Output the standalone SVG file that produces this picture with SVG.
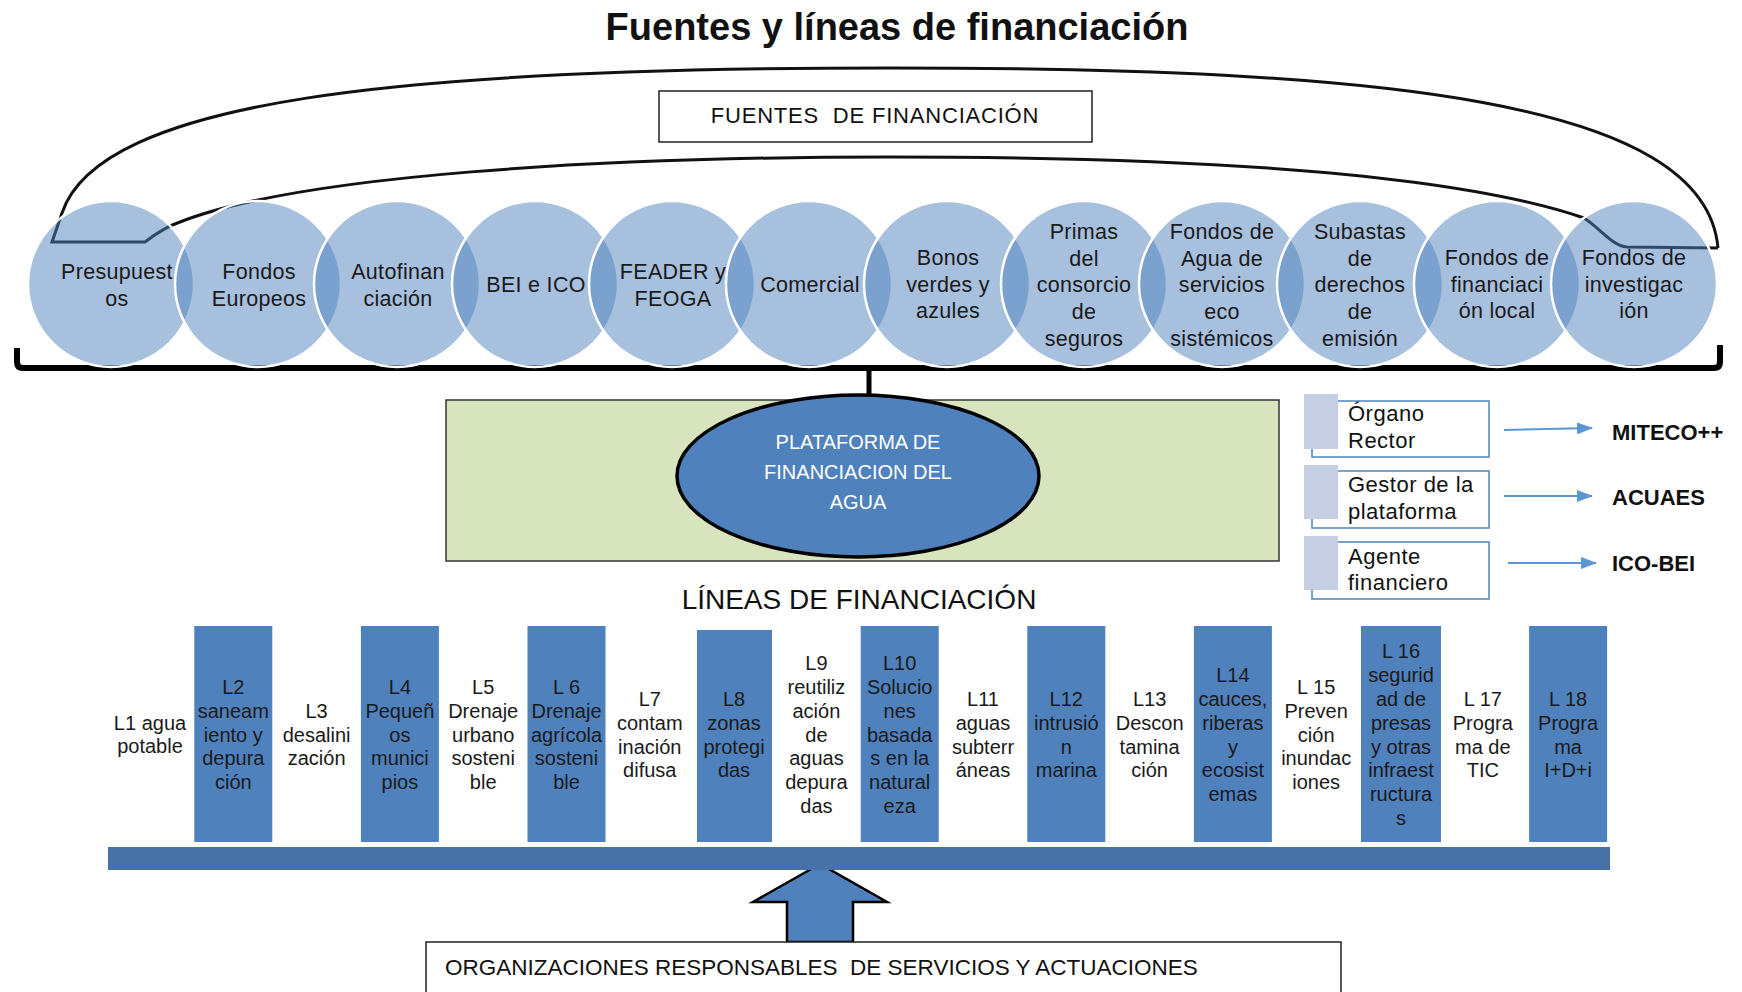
<svg xmlns="http://www.w3.org/2000/svg" width="1742" height="992" viewBox="0 0 1742 992">
<style>
text{font-family:"Liberation Sans",Arial,sans-serif;fill:#1a1a1a}
.title{font-size:38px;font-weight:bold;fill:#111}
.hdr{font-size:22px;fill:#111;white-space:pre;letter-spacing:0.8px}
.c{font-size:21.5px;text-anchor:middle;letter-spacing:0.3px}
.col{font-size:20px;text-anchor:middle}
.circ{fill:#4f81bd;fill-opacity:0.5;stroke:#fff;stroke-width:2.5}
.bar{fill:#4f81bd}
.sq{fill:#c5cee2}
.ob{fill:none;stroke:#5b8ac4;stroke-width:1.6}
.bt{font-size:22px;fill:#111;letter-spacing:0.5px}
.lab{font-size:22px;font-weight:bold;fill:#111}
.arr{stroke:#5b96d0;stroke-width:2;fill:none;marker-end:url(#ah)}
.wt{font-size:20px;fill:#fff;text-anchor:middle}
</style>
<defs>
<marker id="ah" markerWidth="16" markerHeight="12" refX="15" refY="6" orient="auto" markerUnits="userSpaceOnUse">
<path d="M0,0 L16,6 L0,12 Z" fill="#5b96d0"/>
</marker>
</defs>
<rect width="1742" height="992" fill="#fff"/>
<text class="title" x="897" y="40" text-anchor="middle">Fuentes y líneas de financiación</text>
<g id="fuentes-box">
<rect x="659" y="91" width="433" height="51" fill="#fff" stroke="#222" stroke-width="1.5"/>
<text class="hdr" x="875" y="123" text-anchor="middle">FUENTES  DE FINANCIACIÓN</text>
</g>
<g id="connectors">
<path d="M1718,248 C1705,100 1380,68 889,68 C400,68 100,100 62,213 L52,242 L145,242 C158,232 168,226 180,222 C300,175 600,157 889,157 C1180,157 1450,172 1584,218 C1600,228 1612,246 1627,247 L1718,248" fill="none" stroke="#111" stroke-width="3"/>
<path d="M17,348 L17,362 Q17,368 23,368 L1714,368 Q1720,368 1720,362 L1720,345" fill="none" stroke="#000" stroke-width="6"/>
<path d="M869,368 L869,397" stroke="#000" stroke-width="5"/>
<path class="arr" d="M1504,430 L1592,428"/>
<path class="arr" d="M1504,496 L1592,496"/>
<path class="arr" d="M1508,563 L1596,563"/>
<polygon points="820,864 753,902 787,902 787,942 853,942 853,902 887,902" fill="#4f81bd" stroke="#000" stroke-width="2.5" stroke-linejoin="miter"/>
</g>
<g id="c1"><circle class="circ" cx="111" cy="284" r="83"/><text class="c" x="117" y="279">Presupuest<tspan x="117" dy="26.7">os</tspan></text></g>
<g id="c2"><circle class="circ" cx="258" cy="284" r="83"/><text class="c" x="259" y="279">Fondos<tspan x="259" dy="26.7">Europeos</tspan></text></g>
<g id="c3"><circle class="circ" cx="397" cy="284" r="83"/><text class="c" x="398" y="279">Autofinan<tspan x="398" dy="26.7">ciación</tspan></text></g>
<g id="c4"><circle class="circ" cx="535" cy="284" r="83"/><text class="c" x="536" y="292">BEI e ICO</text></g>
<g id="c5"><circle class="circ" cx="672" cy="284" r="83"/><text class="c" x="673" y="279">FEADER y<tspan x="673" dy="26.7">FEOGA</tspan></text></g>
<g id="c6"><circle class="circ" cx="809" cy="284" r="83"/><text class="c" x="810" y="292">Comercial</text></g>
<g id="c7"><circle class="circ" cx="947" cy="284" r="83"/><text class="c" x="948" y="265">Bonos<tspan x="948" dy="26.7">verdes y</tspan><tspan x="948" dy="26.7">azules</tspan></text></g>
<g id="c8"><circle class="circ" cx="1084" cy="284" r="83"/><text class="c" x="1084" y="239">Primas<tspan x="1084" dy="26.7">del</tspan><tspan x="1084" dy="26.7">consorcio</tspan><tspan x="1084" dy="26.7">de</tspan><tspan x="1084" dy="26.7">seguros</tspan></text></g>
<g id="c9"><circle class="circ" cx="1222" cy="284" r="83"/><text class="c" x="1222" y="239">Fondos de<tspan x="1222" dy="26.7">Agua de</tspan><tspan x="1222" dy="26.7">servicios</tspan><tspan x="1222" dy="26.7">eco</tspan><tspan x="1222" dy="26.7">sistémicos</tspan></text></g>
<g id="c10"><circle class="circ" cx="1360" cy="284" r="83"/><text class="c" x="1360" y="239">Subastas<tspan x="1360" dy="26.7">de</tspan><tspan x="1360" dy="26.7">derechos</tspan><tspan x="1360" dy="26.7">de</tspan><tspan x="1360" dy="26.7">emisión</tspan></text></g>
<g id="c11"><circle class="circ" cx="1497" cy="284" r="83"/><text class="c" x="1497" y="265">Fondos de<tspan x="1497" dy="26.7">financiaci</tspan><tspan x="1497" dy="26.7">ón local</tspan></text></g>
<g id="c12"><circle class="circ" cx="1634" cy="284" r="83"/><text class="c" x="1634" y="265">Fondos de<tspan x="1634" dy="26.7">investigac</tspan><tspan x="1634" dy="26.7">ión</tspan></text></g>
<g id="plataforma">
<rect x="446" y="400" width="833" height="161" fill="#d7e4bd" stroke="#333" stroke-width="1.5"/>
<ellipse cx="858" cy="476" rx="181" ry="81" fill="#4f81bd" stroke="#000" stroke-width="3.5"/>
<text class="wt" x="858" y="449">PLATAFORMA DE<tspan x="858" dy="30">FINANCIACION DEL</tspan><tspan x="858" dy="30">AGUA</tspan></text>
</g>
<g id="organo">
<rect class="ob" x="1312" y="401" width="177" height="56"/>
<rect class="sq" x="1304" y="394" width="34" height="55"/>
<text class="bt" x="1348" y="421">Órgano<tspan x="1348" dy="27">Rector</tspan></text>
</g>
<g id="gestor">
<rect class="ob" x="1312" y="471" width="177" height="57"/>
<rect class="sq" x="1304" y="465" width="34" height="54"/>
<text class="bt" x="1348" y="492">Gestor de la<tspan x="1348" dy="27">plataforma</tspan></text>
</g>
<g id="agente">
<rect class="ob" x="1312" y="542" width="177" height="57"/>
<rect class="sq" x="1304" y="536" width="34" height="54"/>
<text class="bt" x="1348" y="564">Agente<tspan x="1348" dy="26">financiero</tspan></text>
</g>
<g id="miteco"><text class="lab" x="1612" y="440">MITECO++</text></g>
<g id="acuaes"><text class="lab" x="1612" y="505">ACUAES</text></g>
<g id="icobei"><text class="lab" x="1612" y="571">ICO-BEI</text></g>
<text x="859" y="609" text-anchor="middle" style="font-size:28px;fill:#111">LÍNEAS DE FINANCIACIÓN</text>
<g id="L1"><text class="col" x="150" y="729.5">L1 agua<tspan x="150" dy="23.9">potable</tspan></text></g>
<g id="L2"><rect class="bar" x="194.3" y="626" width="78" height="216"/><text class="col" x="233.3" y="693.7">L2<tspan x="233.3" dy="23.9">saneam</tspan><tspan x="233.3" dy="23.9">iento y</tspan><tspan x="233.3" dy="23.9">depura</tspan><tspan x="233.3" dy="23.9">ción</tspan></text></g>
<g id="L3"><text class="col" x="316.6" y="717.6">L3<tspan x="316.6" dy="23.9">desalini</tspan><tspan x="316.6" dy="23.9">zación</tspan></text></g>
<g id="L4"><rect class="bar" x="360.9" y="626" width="78" height="216"/><text class="col" x="399.9" y="693.7">L4<tspan x="399.9" dy="23.9">Pequeñ</tspan><tspan x="399.9" dy="23.9">os</tspan><tspan x="399.9" dy="23.9">munici</tspan><tspan x="399.9" dy="23.9">pios</tspan></text></g>
<g id="L5"><text class="col" x="483.2" y="693.7">L5<tspan x="483.2" dy="23.9">Drenaje</tspan><tspan x="483.2" dy="23.9">urbano</tspan><tspan x="483.2" dy="23.9">sosteni</tspan><tspan x="483.2" dy="23.9">ble</tspan></text></g>
<g id="L6"><rect class="bar" x="527.5" y="626" width="78" height="216"/><text class="col" x="566.5" y="693.7">L 6<tspan x="566.5" dy="23.9">Drenaje</tspan><tspan x="566.5" dy="23.9">agrícola</tspan><tspan x="566.5" dy="23.9">sosteni</tspan><tspan x="566.5" dy="23.9">ble</tspan></text></g>
<g id="L7"><text class="col" x="649.8" y="705.7">L7<tspan x="649.8" dy="23.9">contam</tspan><tspan x="649.8" dy="23.9">inación</tspan><tspan x="649.8" dy="23.9">difusa</tspan></text></g>
<g id="L8"><rect class="bar" x="697" y="630" width="75" height="212"/><text class="col" x="734" y="705.7">L8<tspan x="734" dy="23.9">zonas</tspan><tspan x="734" dy="23.9">protegi</tspan><tspan x="734" dy="23.9">das</tspan></text></g>
<g id="L9"><text class="col" x="816.4" y="669.8">L9<tspan x="816.4" dy="23.9">reutiliz</tspan><tspan x="816.4" dy="23.9">ación</tspan><tspan x="816.4" dy="23.9">de</tspan><tspan x="816.4" dy="23.9">aguas</tspan><tspan x="816.4" dy="23.9">depura</tspan><tspan x="816.4" dy="23.9">das</tspan></text></g>
<g id="L10"><rect class="bar" x="860.7" y="626" width="78" height="216"/><text class="col" x="899.7" y="669.8">L10<tspan x="899.7" dy="23.9">Solucio</tspan><tspan x="899.7" dy="23.9">nes</tspan><tspan x="899.7" dy="23.9">basada</tspan><tspan x="899.7" dy="23.9">s en la</tspan><tspan x="899.7" dy="23.9">natural</tspan><tspan x="899.7" dy="23.9">eza</tspan></text></g>
<g id="L11"><text class="col" x="983" y="705.7">L11<tspan x="983" dy="23.9">aguas</tspan><tspan x="983" dy="23.9">subterr</tspan><tspan x="983" dy="23.9">áneas</tspan></text></g>
<g id="L12"><rect class="bar" x="1027.3" y="626" width="78" height="216"/><text class="col" x="1066.3" y="705.7">L12<tspan x="1066.3" dy="23.9">intrusió</tspan><tspan x="1066.3" dy="23.9">n</tspan><tspan x="1066.3" dy="23.9">marina</tspan></text></g>
<g id="L13"><text class="col" x="1149.6" y="705.7">L13<tspan x="1149.6" dy="23.9">Descon</tspan><tspan x="1149.6" dy="23.9">tamina</tspan><tspan x="1149.6" dy="23.9">ción</tspan></text></g>
<g id="L14"><rect class="bar" x="1193.9" y="626" width="78" height="216"/><text class="col" x="1232.9" y="681.8">L14<tspan x="1232.9" dy="23.9">cauces,</tspan><tspan x="1232.9" dy="23.9">riberas</tspan><tspan x="1232.9" dy="23.9">y</tspan><tspan x="1232.9" dy="23.9">ecosist</tspan><tspan x="1232.9" dy="23.9">emas</tspan></text></g>
<g id="L15"><text class="col" x="1316.2" y="693.7">L 15<tspan x="1316.2" dy="23.9">Preven</tspan><tspan x="1316.2" dy="23.9">ción</tspan><tspan x="1316.2" dy="23.9">inundac</tspan><tspan x="1316.2" dy="23.9">iones</tspan></text></g>
<g id="L16"><rect class="bar" x="1361" y="626" width="80" height="216"/><text class="col" x="1401" y="657.9">L 16<tspan x="1401" dy="23.9">segurid</tspan><tspan x="1401" dy="23.9">ad de</tspan><tspan x="1401" dy="23.9">presas</tspan><tspan x="1401" dy="23.9">y otras</tspan><tspan x="1401" dy="23.9">infraest</tspan><tspan x="1401" dy="23.9">ructura</tspan><tspan x="1401" dy="23.9">s</tspan></text></g>
<g id="L17"><text class="col" x="1482.8" y="705.7">L 17<tspan x="1482.8" dy="23.9">Progra</tspan><tspan x="1482.8" dy="23.9">ma de</tspan><tspan x="1482.8" dy="23.9">TIC</tspan></text></g>
<g id="L18"><rect class="bar" x="1529.1" y="626" width="78" height="216"/><text class="col" x="1568.1" y="705.7">L 18<tspan x="1568.1" dy="23.9">Progra</tspan><tspan x="1568.1" dy="23.9">ma</tspan><tspan x="1568.1" dy="23.9">I+D+i</tspan></text></g>
<g id="base-bar"><rect x="108" y="847" width="1502" height="23" fill="#4672a8"/></g>
<g id="organizaciones">
<rect x="426" y="942" width="915" height="60" fill="#fff" stroke="#222" stroke-width="1.5"/>
<text class="hdr" x="445" y="975" style="font-size:22.5px;letter-spacing:0px">ORGANIZACIONES RESPONSABLES  DE SERVICIOS Y ACTUACIONES</text>
</g>
</svg>
